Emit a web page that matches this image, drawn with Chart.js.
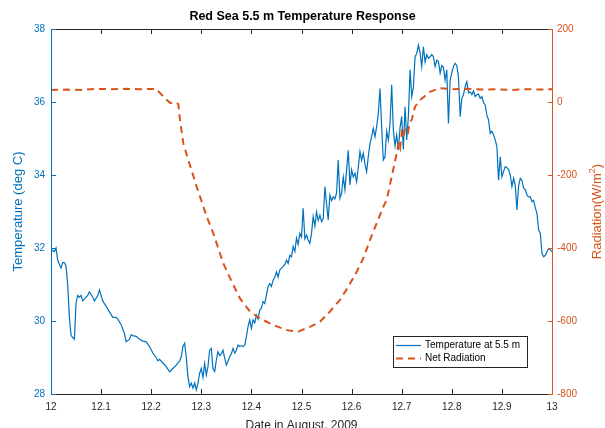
<!DOCTYPE html>
<html><head><meta charset="utf-8">
<script src="https://cdn.jsdelivr.net/npm/chart.js@4.4.1/dist/chart.umd.min.js"></script>
<style>html,body{margin:0;padding:0;background:#fff}#wrap{width:605px;height:428px;position:relative}</style>
</head><body><div id="wrap"><canvas id="c"></canvas></div>
<script>
// ---------- data ----------
const xTicks = [12, 12.1, 12.2, 12.3, 12.4, 12.5, 12.6, 12.7, 12.8, 12.9, 13];
const tempTicks = [28, 30, 32, 34, 36, 38];
const radTicks = [-800, -600, -400, -200, 0, 200];

const tempDate = [
12.0000,12.0067,12.0100,12.0133,12.0167,12.0200,12.0233,12.0267,12.0300,12.0333,12.0367,12.0400,12.0467,12.0500,12.0533,12.0567,12.0600,12.0633,12.0667,12.0733,12.0767,12.0833,12.0867,12.0933,12.0967,12.1000,12.1033,12.1100,12.1167,12.1233,12.1300,12.1333,12.1400,12.1467,12.1500,12.1567,12.1600,12.1633,12.1700,12.1767,12.1833,12.1900,12.1967,12.2033,12.2100,12.2133,12.2167,12.2233,12.2300,12.2367,12.2433,12.2500,12.2567,12.2600,12.2633,12.2667,12.2700,12.2733,12.2767,12.2800,12.2833,12.2867,12.2900,12.2933,12.2967,
12.3000,12.3033,12.3067,12.3100,12.3133,12.3167,12.3200,12.3233,12.3267,12.3300,12.3333,12.3367,12.3400,12.3433,12.3467,12.3500,12.3533,12.3567,12.3600,12.3633,12.3667,12.3700,12.3733,12.3767,12.3800,12.3833,12.3867,12.3900,12.3933,12.3967,
12.4000,12.4033,12.4067,12.4100,12.4133,12.4167,12.4200,12.4233,12.4267,12.4300,12.4333,12.4367,12.4400,12.4433,12.4467,12.4500,12.4533,12.4567,12.4600,12.4633,12.4667,12.4700,12.4733,12.4767,12.4800,12.4833,12.4867,12.4900,12.4933,12.4967,
12.5000,12.5033,12.5067,12.5100,12.5133,12.5167,12.5200,12.5233,12.5267,12.5300,12.5333,12.5367,12.5400,12.5433,12.5467,12.5500,12.5533,12.5567,12.5600,12.5633,12.5667,12.5700,12.5733,12.5767,12.5800,12.5833,12.5867,12.5900,12.5933,12.5967,
12.6000,12.6033,12.6067,12.6100,12.6133,12.6167,12.6200,12.6233,12.6267,12.6300,12.6333,12.6367,12.6400,12.6433,12.6467,12.6500,12.6533,12.6567,12.6600,12.6633,12.6667,12.6700,12.6733,12.6767,12.6800,12.6833,12.6867,12.6900,12.6933,12.6967,
12.7000,12.7033,12.7067,12.7100,12.7133,12.7167,12.7200,12.7233,12.7267,12.7300,12.7333,12.7367,12.7400,12.7433,12.7467,12.7500,12.7533,12.7567,12.7600,12.7633,12.7667,12.7700,12.7733,12.7767,12.7800,12.7833,12.7867,12.7900,12.7933,12.7967,
12.8000,12.8033,12.8067,12.8100,12.8133,12.8167,12.8200,12.8233,12.8267,12.8300,12.8333,12.8367,12.8400,12.8433,12.8467,12.8500,12.8533,12.8567,12.8600,12.8633,12.8667,12.8700,12.8733,12.8767,12.8800,12.8833,12.8867,12.8900,12.8933,12.8967,
12.9000,12.9033,12.9067,12.9100,12.9133,12.9167,12.9200,12.9233,12.9267,12.9300,12.9333,12.9367,12.9400,12.9433,12.9467,12.9500,12.9533,12.9567,12.9600,12.9633,12.9667,12.9700,12.9733,12.9767,12.9800,12.9833,12.9867,12.9900,12.9933,12.9967,13.0000
];
const tempValue = [
31.95,31.9,32.0,31.67,31.55,31.45,31.6,31.6,31.5,31.0,30.1,29.6,29.5,30.5,30.7,30.65,30.7,30.55,30.6,30.7,30.8,30.65,30.55,30.7,30.85,30.7,30.55,30.4,30.25,30.1,30.1,30.05,29.9,29.65,29.43,29.5,29.62,29.6,29.58,29.5,29.45,29.43,29.3,29.12,29.0,28.91,28.95,28.85,28.75,28.61,28.7,28.79,28.9,29.02,29.3,29.39,29.02,28.47,28.2,28.3,28.16,28.3,28.11,28.3,28.57,
28.7,28.45,28.84,28.52,28.75,29.2,29.25,28.7,28.62,28.93,29.16,29.05,29.1,29.2,28.98,28.79,28.9,29.02,29.1,29.25,29.12,29.2,29.34,29.3,29.32,29.3,29.34,29.57,29.85,30.03,
29.8,30.03,29.95,30.16,30.05,30.3,30.35,30.53,30.48,30.71,30.94,31.03,30.95,31.12,31.2,31.35,31.2,31.4,31.45,31.49,31.55,31.67,31.58,31.8,31.76,32.04,31.9,32.27,32.1,32.4,
32.3,33.09,32.25,32.35,32.22,32.13,32.4,32.86,32.6,32.99,32.75,32.9,32.72,32.8,33.68,33.22,32.77,33.45,33.3,33.4,33.35,33.5,34.41,33.36,33.5,33.95,33.6,34.14,34.68,33.73,
34.15,33.95,34.05,33.82,34.2,34.64,34.4,34.6,34.3,34.09,34.5,34.86,35.05,35.28,35.05,35.32,35.69,36.37,35.32,34.41,34.5,35.2,34.95,35.41,36.47,35.23,34.8,35.1,34.68,35.3,
35.6,34.7,35.87,34.96,35.6,36.88,36.15,36.4,37.24,37.33,37.56,37.35,36.97,37.51,37.1,37.3,37.2,37.24,37.3,37.24,36.97,37.15,37.11,36.79,37.0,36.95,36.6,36.88,35.41,36.6,
36.8,36.97,37.06,37.0,36.69,35.6,36.1,36.2,36.42,36.56,36.25,36.28,36.2,36.3,36.15,36.2,36.22,36.1,36.15,35.98,35.92,35.64,35.51,35.14,35.2,35.1,34.96,34.78,33.86,34.5,
33.95,34.1,34.23,34.2,34.15,34.0,33.68,33.91,33.7,33.04,33.7,33.91,33.85,33.64,33.6,33.45,33.4,33.4,33.27,33.3,33.1,32.95,32.49,32.4,31.85,31.76,31.8,31.9,31.99,31.95,31.9
];

const radDate = [12.000,12.030,12.060,12.090,12.120,12.150,12.180,12.210,12.2275,12.2375,12.2441,12.2509,12.2541,12.2575,12.2641,12.2741,12.2908,12.3108,12.3240,12.3439,12.3607,12.3772,12.3972,12.4172,12.4437,12.4705,12.4936,12.5170,12.5369,12.5569,12.5768,12.5934,12.6102,12.6234,12.6367,12.6501,12.6633,12.6701,12.6800,12.6900,12.6940,12.6970,12.7000,12.7030,12.7060,12.7100,12.7130,12.7160,12.7200,12.7265,12.7365,12.7565,12.7764,12.800,12.830,12.860,12.890,12.920,12.950,12.980,13.000];
const radValue = [33,34,33,36,35,36,35,36,10,-2,-4,-2,-6,-49,-113,-159,-232,-314,-360,-442,-492,-538,-574,-593,-611,-625,-629,-616,-602,-574,-542,-506,-465,-428,-378,-332,-287,-268,-205,-141,-110,-125,-86,-100,-75,-68,-80,-55,-49,-13,5,28,38,35,36,34,35,33,35,34,35];

const seriesNames = ['Temperature at 5.5 m', 'Net Radiation'];

// ---------- style ----------
const FONT = 'Liberation Sans, Arial, Helvetica, sans-serif';
const BLUE = '#0072BD', ORANGE = '#D95319', DARK = '#262626';

const frame = {
  id: 'frame',
  afterDatasetsDraw(chart) {
    const {ctx, chartArea: a, scales: {x, yT, yR}} = chart;
    const L = a.left, R = a.right, T = a.top, B = a.bottom, tk = 5;
    ctx.save();
    ctx.lineWidth = 1;
    ctx.strokeStyle = DARK;
    ctx.beginPath();
    ctx.moveTo(L, B + 0.5); ctx.lineTo(R, B + 0.5);
    ctx.moveTo(L, T + 0.5); ctx.lineTo(R, T + 0.5);
    x.ticks.forEach(t => {
      const p = Math.round(x.getPixelForValue(t.value)) + 0.5;
      ctx.moveTo(p, B); ctx.lineTo(p, B - tk);
      ctx.moveTo(p, T); ctx.lineTo(p, T + tk);
    });
    ctx.stroke();
    ctx.strokeStyle = BLUE;
    ctx.beginPath();
    ctx.moveTo(L + 0.5, T); ctx.lineTo(L + 0.5, B + 1);
    yT.ticks.forEach(t => {
      const p = Math.round(yT.getPixelForValue(t.value)) + 0.5;
      ctx.moveTo(L, p); ctx.lineTo(L + tk, p);
    });
    ctx.stroke();
    ctx.strokeStyle = ORANGE;
    ctx.beginPath();
    ctx.moveTo(R + 0.5, T); ctx.lineTo(R + 0.5, B + 1);
    yR.ticks.forEach(t => {
      const p = Math.round(yR.getPixelForValue(t.value)) + 0.5;
      ctx.moveTo(R + 1, p); ctx.lineTo(R + 1 - tk, p);
    });
    ctx.stroke();
    ctx.restore();
  },
  afterDraw(chart) {
    const {ctx, chartArea: a} = chart;
    const ds = chart.data.datasets;
    ctx.save();
    // legend
    const lx = a.right - 159, ly = a.bottom - 58, lw = 134, lh = 31;
    ctx.fillStyle = '#fff';
    ctx.fillRect(lx, ly, lw, lh);
    ctx.strokeStyle = DARK; ctx.lineWidth = 1;
    ctx.strokeRect(lx + 0.5, ly + 0.5, lw, lh);
    ctx.font = '10px ' + FONT;
    ctx.textBaseline = 'middle';
    ctx.textAlign = 'left';
    const rows = [ly + 9.5, ly + 22.5];
    ds.forEach((d, i) => {
      ctx.save();
      ctx.strokeStyle = d.borderColor;
      ctx.lineWidth = d.borderWidth;
      ctx.setLineDash(d.borderDash || []);
      ctx.beginPath();
      ctx.moveTo(lx + 3, rows[i]); ctx.lineTo(lx + 28, rows[i]);
      ctx.stroke();
      ctx.restore();
      ctx.fillStyle = '#000';
      ctx.fillText(d.label, lx + 32, rows[i]);
    });
    // right axis title (reads bottom to top)
    const cx = a.right + 44, cy = (a.top + a.bottom) / 2;
    ctx.translate(cx, cy);
    ctx.rotate(-Math.PI / 2);
    ctx.fillStyle = ORANGE;
    const main = '13px ' + FONT, sup = '9px ' + FONT;
    ctx.font = main; const w1 = ctx.measureText('Radiation(W/m').width; const w3 = ctx.measureText(')').width;
    ctx.font = sup; const w2 = ctx.measureText('2').width;
    let sx = -(w1 + w2 + w3) / 2;
    ctx.textBaseline = 'alphabetic';
    ctx.font = main; ctx.fillText('Radiation(W/m', sx, 4.5); sx += w1;
    ctx.font = sup; ctx.fillText('2', sx, -1.5); sx += w2;
    ctx.font = main; ctx.fillText(')', sx, 4.5);
    ctx.restore();
  }
};

new Chart(document.getElementById('c'), {
  type: 'line',
  data: {
    datasets: [
      {
        label: seriesNames[0],
        data: tempDate.map((d, i) => ({x: d, y: tempValue[i]})),
        yAxisID: 'yT', borderColor: BLUE, borderWidth: 1.2,
        pointRadius: 0, tension: 0, fill: false, order: 1
      },
      {
        label: seriesNames[1],
        data: radDate.map((d, i) => ({x: d, y: radValue[i]})),
        yAxisID: 'yR', borderColor: ORANGE, borderWidth: 2, borderDash: [7, 5],
        pointRadius: 0, tension: 0, fill: false, order: 0
      }
    ]
  },
  options: {
    responsive: true, maintainAspectRatio: false, animation: false,
    layout: {padding: 0},
    plugins: {
      legend: {display: false},
      tooltip: {enabled: false},
      title: {
        display: true, text: 'Red Sea 5.5 m Temperature Response', color: '#000',
        font: {family: FONT, size: 12.5, weight: 'bold', lineHeight: 1.2},
        padding: {top: 9.5, bottom: 4.5}
      }
    },
    scales: {
      x: {
        type: 'linear', position: 'bottom', min: 12, max: 13,
        afterBuildTicks: s => { s.ticks = xTicks.map(v => ({value: v})); },
        afterFit: s => { s.height = 34; },
        grid: {display: false, drawTicks: false}, border: {display: false},
        ticks: {color: DARK, font: {family: FONT, size: 10}, padding: 7, maxRotation: 0, autoSkip: false,
                callback: v => String(+Number(v).toFixed(1))},
        title: {display: true, text: 'Date in August, 2009', color: DARK,
                font: {family: FONT, size: 12, lineHeight: 1.2}, padding: {top: 0, bottom: -4.5}}
      },
      yT: {
        type: 'linear', position: 'left', min: 28, max: 38,
        afterBuildTicks: s => { s.ticks = tempTicks.map(v => ({value: v})); },
        afterFit: s => { s.width = 51; },
        grid: {display: false, drawTicks: false}, border: {display: false},
        ticks: {color: BLUE, font: {family: FONT, size: 10}, padding: 6, callback: v => String(v)},
        title: {display: true, text: 'Temperature (deg C)', color: BLUE,
                font: {family: FONT, size: 13, lineHeight: 1.2}, padding: {top: 11, bottom: 0}}
      },
      yR: {
        type: 'linear', position: 'right', min: -800, max: 200,
        afterBuildTicks: s => { s.ticks = radTicks.map(v => ({value: v})); },
        afterFit: s => { s.width = 53; },
        grid: {display: false, drawTicks: false}, border: {display: false},
        ticks: {color: ORANGE, font: {family: FONT, size: 10}, padding: 5, callback: v => String(v)}
      }
    }
  },
  plugins: [frame]
});
</script>
</body></html>
